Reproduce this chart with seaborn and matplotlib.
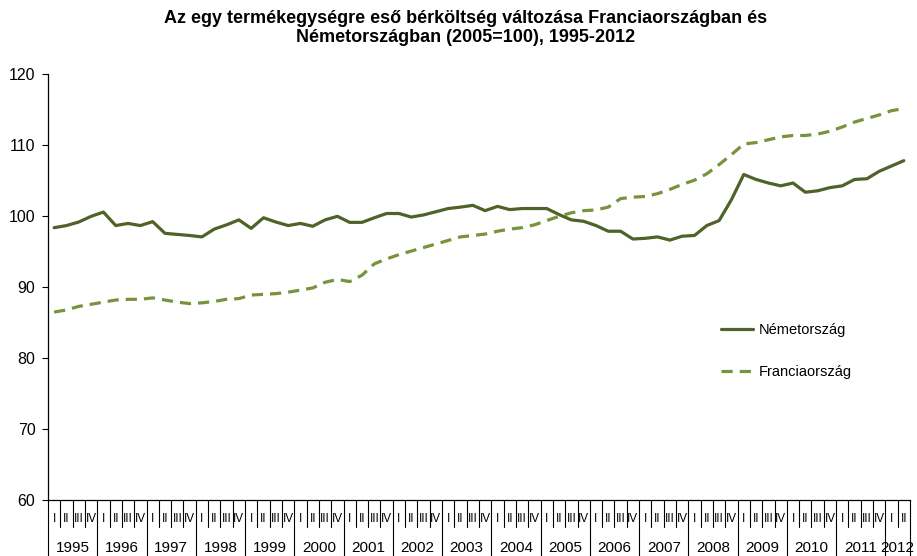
import matplotlib
matplotlib.use("Agg")
import matplotlib.pyplot as plt
import matplotlib.transforms as mtransforms
import seaborn as sns
import pandas as pd

# quarterly index values, 1995 Q1 - 2012 Q2 (2005=100)
nemet = [98.4, 98.7, 99.2, 100.0, 100.6, 98.7, 99.0, 98.7, 99.25, 97.6,
         97.45, 97.3, 97.1, 98.2, 98.8, 99.5, 98.3, 99.8, 99.2, 98.7,
         99.0, 98.6, 99.5, 100.0, 99.15, 99.15, 99.8, 100.4, 100.4, 99.9,
         100.2, 100.65, 101.1, 101.3, 101.55, 100.8, 101.4, 100.95, 101.1, 101.1,
         101.1, 100.25, 99.5, 99.3, 98.7, 97.9, 97.9, 96.8, 96.9, 97.1,
         96.65, 97.2, 97.3, 98.7, 99.4, 102.35, 105.9, 105.2, 104.7, 104.3,
         104.7, 103.4, 103.6, 104.05, 104.3, 105.2, 105.3, 106.35, 107.1, 107.85]
francia = [86.5, 86.8, 87.3, 87.6, 87.9, 88.2, 88.3, 88.3, 88.5, 88.2,
           87.9, 87.7, 87.8, 88.0, 88.3, 88.4, 88.9, 89.0, 89.1, 89.3,
           89.6, 89.9, 90.7, 91.1, 90.8, 91.7, 93.3, 94.0, 94.6, 95.1,
           95.6, 96.1, 96.6, 97.1, 97.3, 97.5, 97.9, 98.2, 98.4, 98.8,
           99.4, 100.0, 100.5, 100.8, 100.9, 101.3, 102.5, 102.7, 102.8, 103.2,
           103.8, 104.5, 105.1, 106.0, 107.3, 108.7, 110.2, 110.4, 110.8, 111.2,
           111.4, 111.4, 111.6, 112.0, 112.6, 113.3, 113.8, 114.3, 114.9, 115.2]
years = list(range(1995, 2013))
quarters_per_year = [4] * 17 + [2]
quarter_names = ["I", "II", "III", "IV"]

quarter_labels = []
for n in quarters_per_year:
    quarter_labels += quarter_names[:n]
idx = list(range(len(quarter_labels)))

df = pd.DataFrame({
    "t": idx * 2,
    "ertek": nemet + francia,
    "orszag": ["Németország"] * len(nemet) + ["Franciaország"] * len(francia),
})

sns.set_style("white")
plt.rcParams["font.family"] = ["Liberation Sans", "DejaVu Sans"]
plt.rcParams["text.color"] = "black"
plt.rcParams["ytick.color"] = "black"
plt.rcParams["xtick.color"] = "black"

fig = plt.figure(figsize=(9.17, 5.56), dpi=100)
W, H = 917, 556
ax = fig.add_axes([48 / W, (H - 500) / H, (910 - 48) / W, (500 - 74.5) / H])

sns.lineplot(data=df, x="t", y="ertek", hue="orszag", style="orszag",
             hue_order=["Németország", "Franciaország"],
             style_order=["Németország", "Franciaország"],
             palette={"Németország": "#4F6228", "Franciaország": "#77933C"},
             dashes={"Németország": "", "Franciaország": (3.5, 2.2)},
             linewidth=2.3, ax=ax)

ax.set_xlim(-0.5, len(idx) - 0.5)
ax.set_ylim(60, 120)
ax.set_yticks(range(60, 121, 10))
ax.tick_params(axis="y", which="major", direction="out", length=4, width=0.8,
               labelsize=11.5, left=True, pad=5, color="black", labelcolor="black")
ax.set_xlabel("")
ax.set_ylabel("")
ax.set_xticks([])
for s in ["top", "right"]:
    ax.spines[s].set_visible(False)
for s in ["left", "bottom"]:
    ax.spines[s].set_color("black")
    ax.spines[s].set_linewidth(0.9)

# category axis: quarter labels, year labels and separators below the plot
tr = mtransforms.blended_transform_factory(ax.transData, fig.transFigure)
y_axis = (H - 500) / H
y_qtick = (H - 527) / H
y_bottom = 0.0
for i, q in enumerate(quarter_labels):
    ax.text(i, (H - 519) / H, q, transform=tr, ha="center", va="center",
            fontsize=8.5, family=["Liberation Sans Narrow", "Liberation Sans"])
pos = 0
for y, n in zip(years, quarters_per_year):
    fig.add_artist(plt.Line2D([pos - 0.5, pos - 0.5], [y_axis, y_bottom],
                              transform=tr, color="black", lw=0.8))
    for k in range(1, n):
        fig.add_artist(plt.Line2D([pos + k - 0.5, pos + k - 0.5], [y_axis, y_qtick],
                                  transform=tr, color="black", lw=0.8))
    ax.text(pos + (n - 1) / 2, (H - 548) / H, str(y), transform=tr,
            ha="center", va="center", fontsize=11)
    pos += n
fig.add_artist(plt.Line2D([pos - 0.5, pos - 0.5], [y_axis, y_bottom],
                          transform=tr, color="black", lw=0.8))

handles = ax.get_legend().legend_handles
labels = [t.get_text() for t in ax.get_legend().texts]
ax.legend(handles, labels, loc="upper left", bbox_to_anchor=(714 / W, 1 - 316 / H),
          bbox_transform=fig.transFigure, frameon=False, fontsize=10.5,
          handlelength=2.2, handletextpad=0.4, labelspacing=1.9, borderpad=0,
          labelcolor="black")

fig.text(466 / W, 1 - 28 / H,
         "Az egy termékegységre eső bérköltség változása Franciaországban és\n"
         "Németországban (2005=100), 1995-2012",
         ha="center", va="center", fontsize=13, fontweight="bold",
         linespacing=1.2, color="black")

fig.savefig("out.png", dpi=100)
